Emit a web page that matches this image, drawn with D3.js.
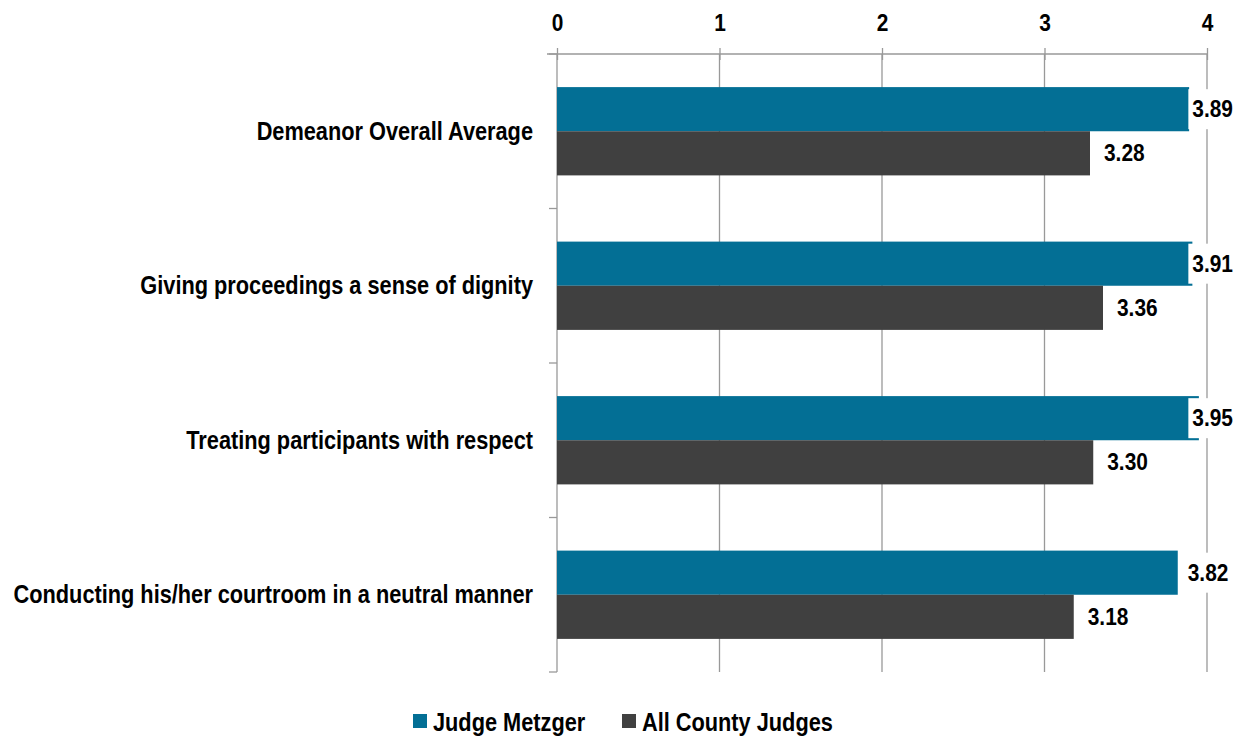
<!DOCTYPE html>
<html>
<head>
<meta charset="utf-8">
<script src="https://cdn.jsdelivr.net/npm/d3@7"></script>
<style>
  body { margin: 0; background: #fff; }
  text { font-family: "Liberation Sans Narrow", "Arial Narrow", "Liberation Sans", sans-serif; font-weight: bold; fill: #000; }
</style>
</head>
<body>
<script>
// chart data
const categories = [
  "Demeanor Overall Average",
  "Giving proceedings a sense of dignity",
  "Treating participants with respect",
  "Conducting his/her courtroom in a neutral manner"
];
const seriesNames = ["Judge Metzger", "All County Judges"];
const metzger = [3.89, 3.91, 3.95, 3.82];
const allJudges = [3.28, 3.36, 3.30, 3.18];
const xTicks = [0, 1, 2, 3, 4];

const colors = ["#036f95", "#404040"];

const width = 1243, height = 738;
const plot = { left: 557, right: 1207, top: 54, bottom: 672 };
//no narrow font installed, so squeeze the regular one
const squeeze = 0.87;

const svg = d3.select("body").append("svg").attr("width", width).attr("height", height);

//put text at (px,py) and squeeze it horizontally around that point
const place = (sel, px, py) => sel.attr("x", 0).attr("y", 0)
  .attr("transform", `translate(${px},${py}) scale(${squeeze},1)`);

const x = d3.scaleLinear().domain([0, 4]).range([plot.left, plot.right]);
const y = d3.scaleBand().domain(categories).range([plot.top, plot.bottom]);
const inner = d3.scaleBand().domain(seriesNames).range([0, y.bandwidth()]).paddingOuter(0.75).paddingInner(0);

//gridlines
svg.append("g").selectAll("line").data(xTicks.slice(1)).enter().append("line")
  .attr("x1", d => x(d)).attr("x2", d => x(d))
  .attr("y1", plot.top).attr("y2", plot.bottom)
  .attr("stroke", "#999").attr("stroke-width", 1.3);

//top axis
const xAxis = d3.axisTop(x).tickValues(xTicks).tickSize(6).tickPadding(17).tickFormat(d3.format("d"));
const gx = svg.append("g").attr("transform", `translate(0,${plot.top})`).call(xAxis);
gx.select(".domain").attr("d", `M${plot.left - 10},0H${plot.right}`).attr("stroke", "#999").attr("stroke-width", 1.3);
gx.selectAll(".tick line").attr("y1", 6).attr("y2", -6).attr("stroke", "#999").attr("stroke-width", 1.3);
gx.attr("font-family", null).attr("font-size", null);
gx.selectAll(".tick text").style("font-size", "24px").attr("fill", "#000")
  .attr("transform", `scale(${squeeze},1)`);

//left axis (category ticks at band boundaries)
svg.append("line").attr("x1", plot.left).attr("x2", plot.left).attr("y1", plot.top).attr("y2", plot.bottom)
  .attr("stroke", "#999").attr("stroke-width", 1.3);
const bounds = categories.map(c => y(c)).concat([plot.bottom]);
svg.append("g").selectAll("line").data(bounds).enter().append("line")
  .attr("x1", plot.left - 8).attr("x2", plot.left).attr("y1", d => d).attr("y2", d => d)
  .attr("stroke", "#999").attr("stroke-width", 1.3);
svg.append("g").selectAll("text").data(categories).enter().append("text")
  .attr("text-anchor", "end").attr("dominant-baseline", "central")
  .style("font-size", "25px").text(d => d)
  .each(function (d) { place(d3.select(this), plot.left - 24, y(d) + y.bandwidth() / 2); });

//bars
const series = [metzger, allJudges];
series.forEach((vals, si) => {
  const g = svg.append("g");
  g.selectAll("rect").data(vals).enter().append("rect")
    .attr("x", x(0))
    .attr("y", (d, i) => y(categories[i]) + inner(seriesNames[si]))
    .attr("width", d => x(d) - x(0))
    .attr("height", inner.bandwidth())
    .attr("fill", colors[si]);
});

//value labels
series.forEach((vals, si) => {
  vals.forEach((v, i) => {
    const cy = y(categories[i]) + inner(seriesNames[si]) + inner.bandwidth() / 2;
    const g = svg.append("g");
    const bg = g.append("rect").attr("fill", "#fff");
    const t = g.append("text").attr("dominant-baseline", "central")
      .style("font-size", "24px").text(v.toFixed(2));
    const w = t.node().getBBox().width * squeeze;
    let tx = x(v) + (si === 0 ? 10 : 14);
    if (tx + w > 1233) tx = 1233 - w;
    place(t, tx, cy);
    bg.attr("x", tx - 4).attr("y", cy - 20).attr("width", w + 8).attr("height", 40);
  });
});

//legend
const legend = svg.append("g");
const legendX = [413, 622];
seriesNames.forEach((s, i) => {
  legend.append("rect").attr("x", legendX[i]).attr("y", 714).attr("width", 14).attr("height", 14).attr("fill", colors[i]);
  place(legend.append("text").attr("dominant-baseline", "central").style("font-size", "25px").text(s),
    legendX[i] + 20, 722);
});
</script>
</body>
</html>
